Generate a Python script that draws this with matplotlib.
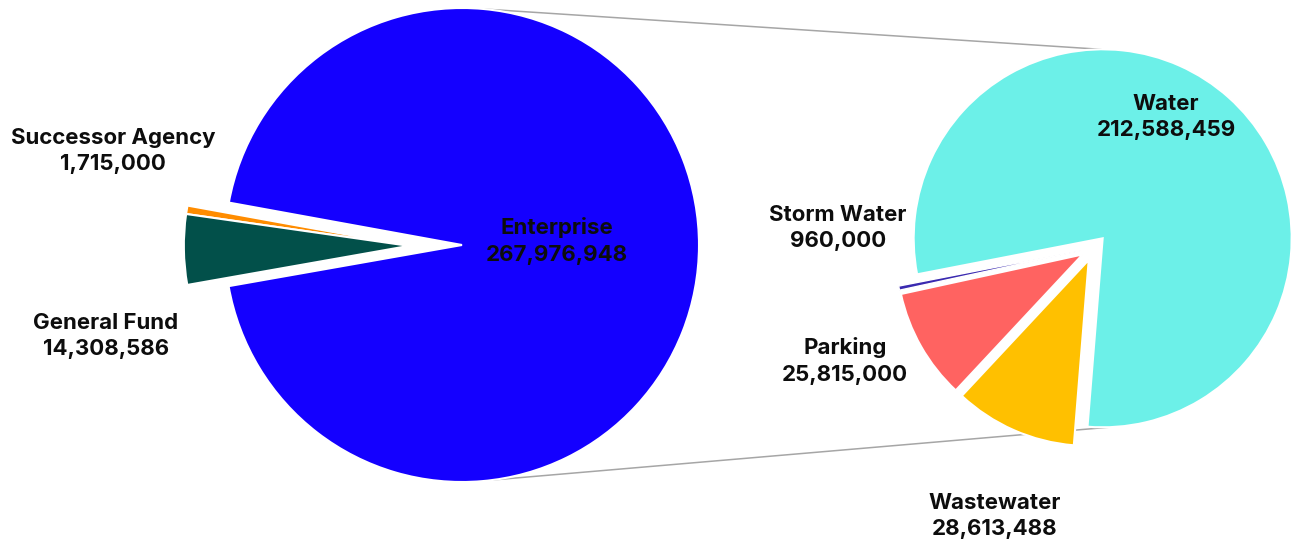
import numpy as np
import matplotlib
matplotlib.use("Agg")
import matplotlib.pyplot as plt

# main pie
main_labels = ["Enterprise", "Successor Agency", "General Fund"]
main_values = [267976948, 1715000, 14308586]
main_colors = ["#1400FF", "#FF8C00", "#02504A"]

# breakdown of Enterprise
sub_labels = ["Water", "Storm Water", "Parking", "Wastewater"]
sub_values = [212588459, 960000, 25815000, 28613488]
sub_colors = ["#6CF0E8", "#3A2AB0", "#FF6361", "#FFC000"]

plt.rcParams['font.family'] = ['Inter', 'DejaVu Sans']

W, H = 1294, 543
fig = plt.figure(figsize=(W / 100, H / 100), dpi=100)
ax = fig.add_axes([0, 0, 1, 1])


def push(w, cx, cy, d):
    m = np.deg2rad((w.theta1 + w.theta2) / 2)
    w.set_center((cx + d * np.cos(m), cy + d * np.sin(m)))


# left pie
lcx, lcy, lr = 462, 298, 237
lw, _ = ax.pie(main_values, colors=main_colors, center=(lcx, lcy), radius=lr,
               startangle=190, counterclock=True, frame=True,
               wedgeprops=dict(edgecolor='white', linewidth=1.5))
push(lw[2], lcx, lcy, 53)
lw[1].set_center(lw[2].center)
for w in lw[1:]:
    w.set_radius(lr * 0.95)

# right pie
rcx, rcy, rr = 1094, 295, 186
rw, _ = ax.pie(sub_values, colors=sub_colors, center=(rcx, rcy), radius=rr,
               startangle=265.4, counterclock=True, frame=True,
               wedgeprops=dict(edgecolor='white', linewidth=1.5))
for w in rw:
    push(w, rcx, rcy, 13)
rw[0].set_radius(189)
rw[1].set_linewidth(1.0)

ax.set_xlim(0, W)
ax.set_ylim(0, H)
ax.set_aspect('equal')
ax.axis('off')

# connector lines
wx, wy = rw[0].center
for a_l, a_r in [(84.5, 90.6), (277.6, 272.1)]:
    p1 = (lcx + lr * np.cos(np.deg2rad(a_l)), lcy + lr * np.sin(np.deg2rad(a_l)))
    p2 = (wx + 189 * np.cos(np.deg2rad(a_r)), wy + 189 * np.sin(np.deg2rad(a_r)))
    ax.plot([p1[0], p2[0]], [p1[1], p2[1]], color='#A6A6A6', lw=1.1, zorder=0)

# labels
main_pos = [(557, 241), (113, 151), (106, 336)]
sub_pos = [(1166, 117), (838, 228), (845, 361), (995, 516)]
for lab, val, (x, y) in list(zip(main_labels, main_values, main_pos)) + \
        list(zip(sub_labels, sub_values, sub_pos)):
    ax.text(x, H - y, f"{lab}\n{val:,}", ha='center', va='center',
            fontsize=16, fontweight='bold', color='#0D0D0D', linespacing=1.4)

fig.savefig("out.png", dpi=100, facecolor='white')
